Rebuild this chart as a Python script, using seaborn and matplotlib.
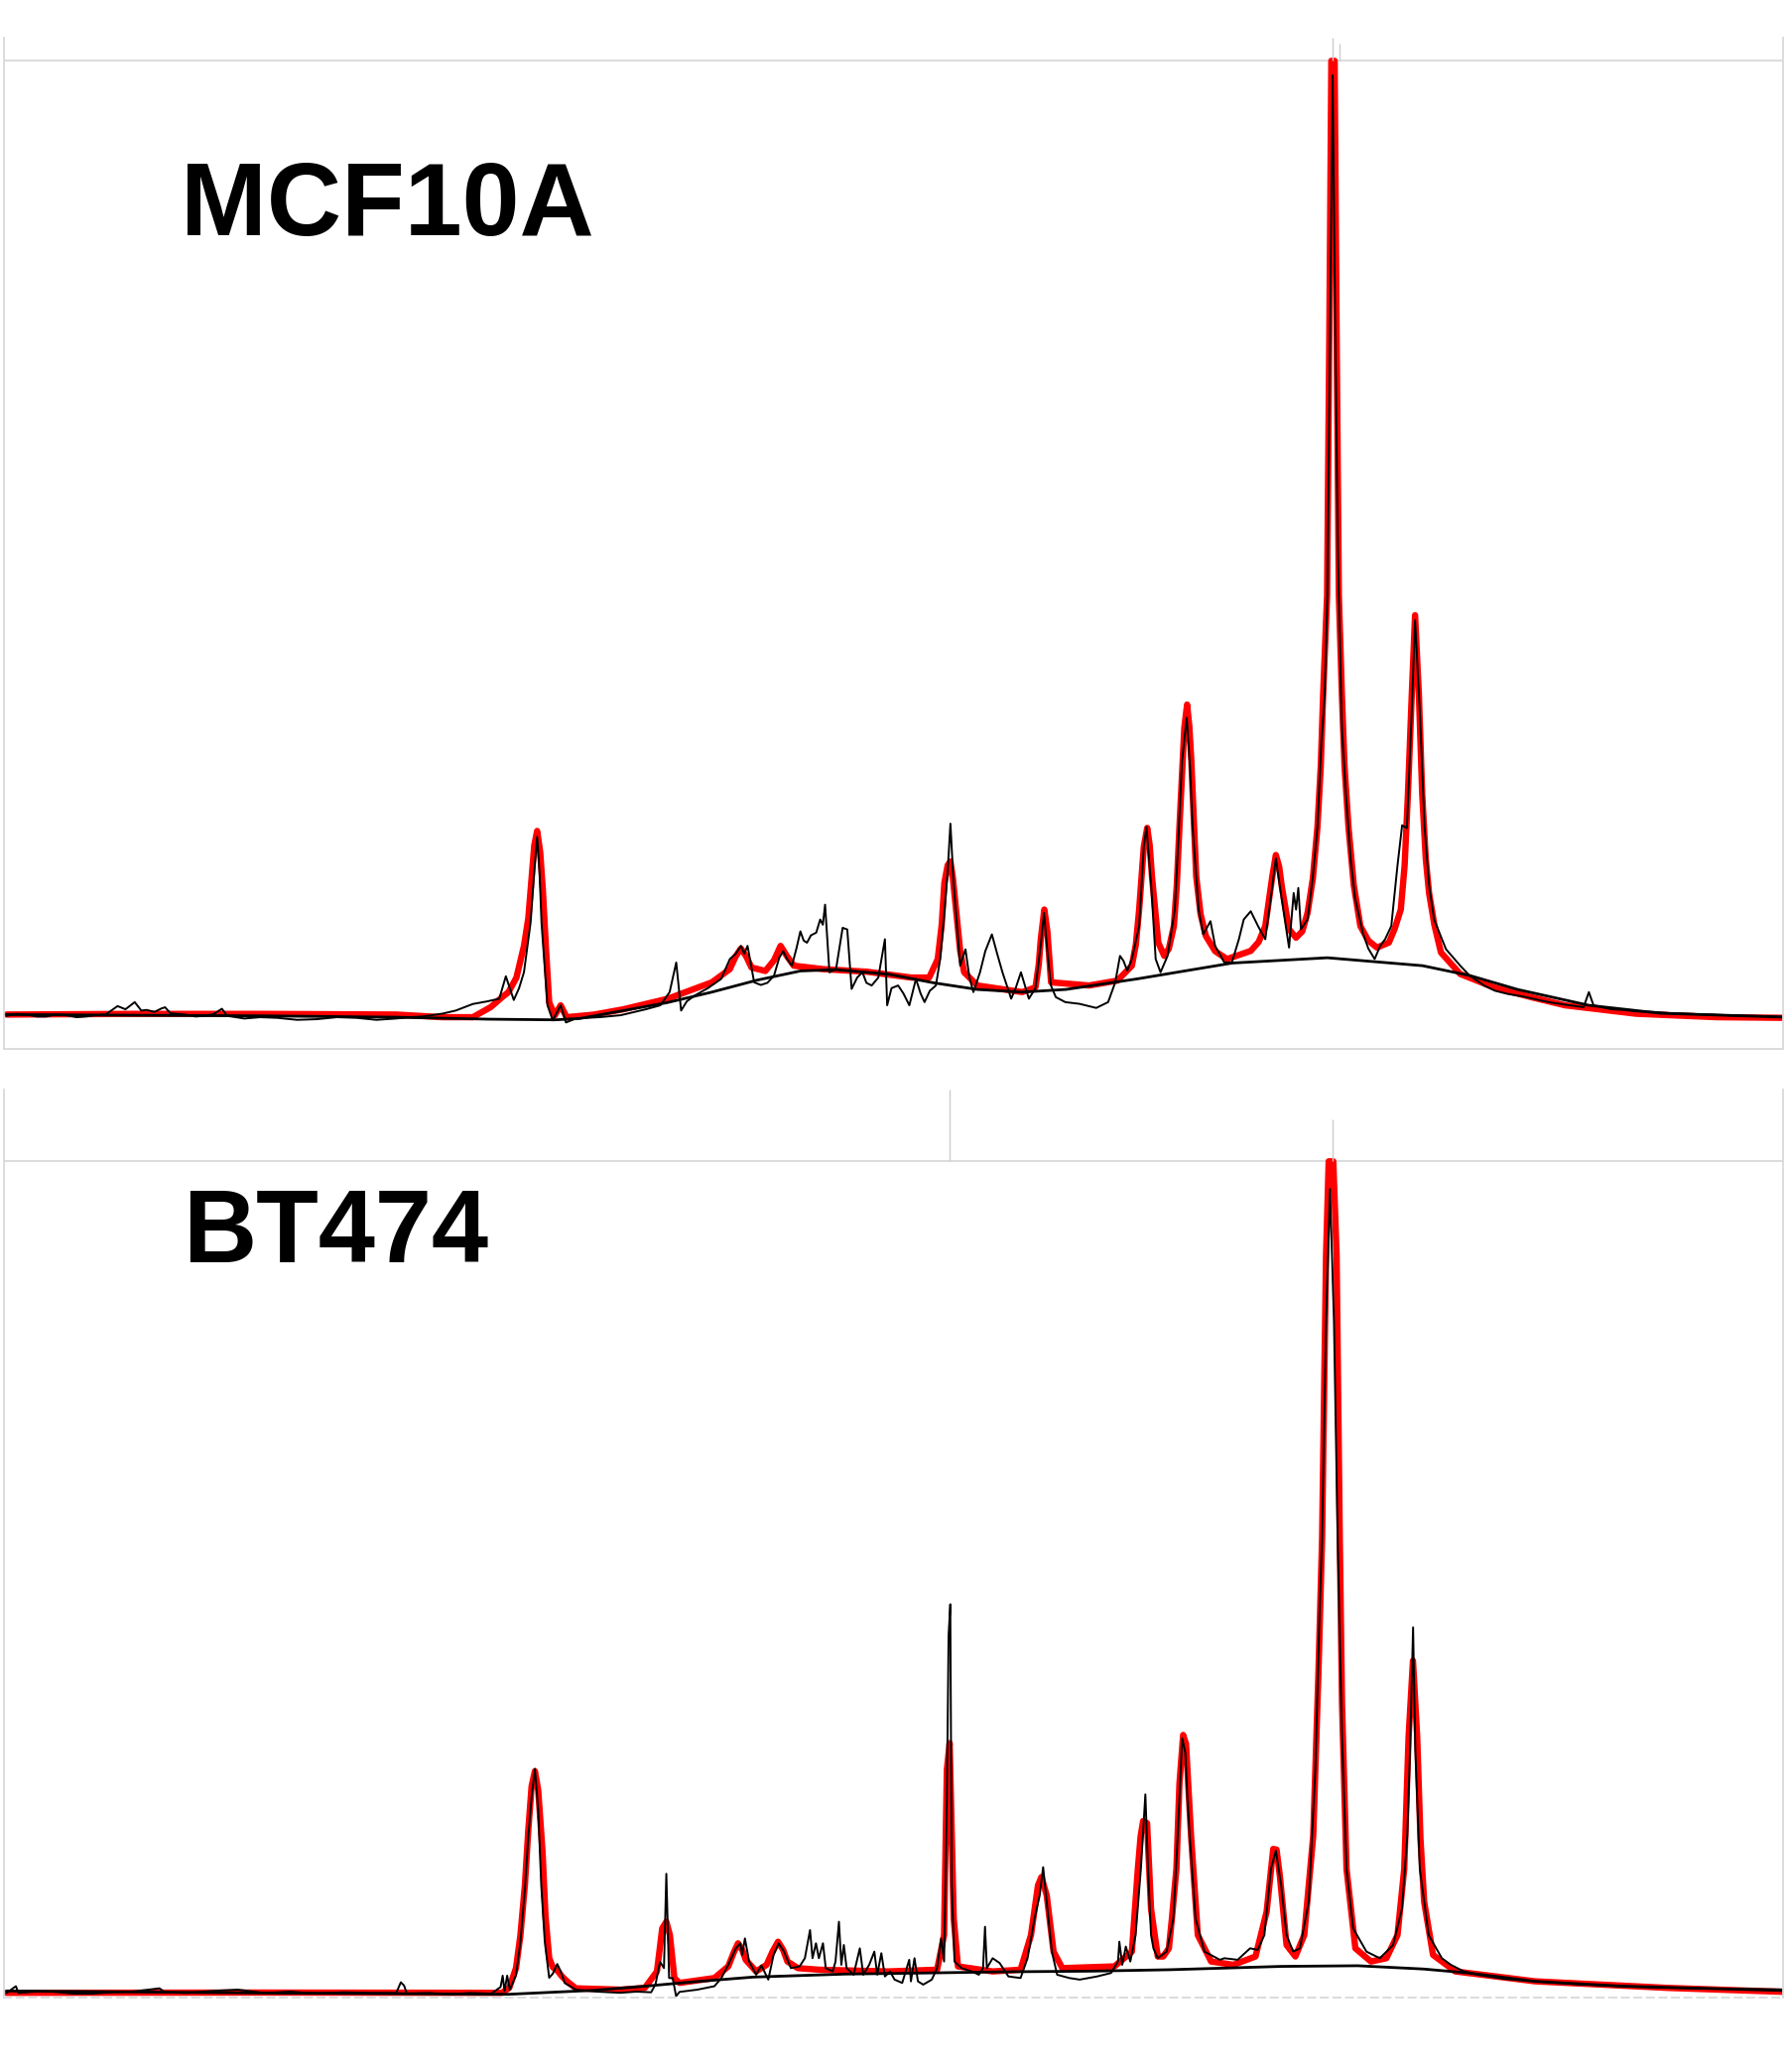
import seaborn as sns
import matplotlib.pyplot as plt

# ---- MCF10A: measured spectrum, fitted peaks (red) and background ----
mcf_x = [5, 12, 20, 28, 35, 42, 50, 58, 65, 72, 80, 89, 95, 102, 107, 111, 117, 122, 125, 129, 140, 148,
         155, 162, 168, 172, 185, 197, 210, 225, 240, 255, 270, 285, 300, 310, 320, 335, 345, 358, 369,
         378, 383, 386, 389, 393, 396.7, 401.7, 404.5,
         406.7, 408.5, 410, 414.5, 418.5, 424.5, 428.5, 436, 455, 470, 489, 500, 507, 512, 515.7, 520,
         526, 536, 546, 552.6, 557, 561, 563.5, 566, 571, 576, 581, 586, 590, 593, 596, 599.6, 603, 606,
         608.5, 611, 614, 618, 621, 623, 624.7, 626, 628, 633, 636, 638, 641.5, 644.8, 649, 653, 656,
         660, 665, 670, 671.7, 675, 680, 684, 688.5, 693.5, 697, 700, 704, 708.6, 712, 715, 717.5,
         719.6, 722, 724.5, 727, 731, 734, 737, 742, 746, 751, 755, 759, 765.6, 769, 773, 779, 784, 788,
         790.5, 793, 795.7, 799.4, 806.6, 817.4, 830, 839, 844.4, 848, 850.6, 853.5, 857, 862.5, 866,
         868, 871.5, 875, 878.7, 884, 889.5, 892, 895, 898.5, 901, 903, 907.5, 911, 916.5, 920, 927,
         932.7, 938, 941.7, 947, 952.5, 958, 963.3, 966, 970.5, 976, 979.5, 981.3, 983, 985, 990, 994,
         997.5, 1000.4, 1003, 1005, 1007, 1009, 1011, 1013, 1016, 1019, 1022.7, 1026, 1031.8, 1036,
         1040.8, 1045, 1048.7, 1053.4, 1058, 1061.6, 1065.2, 1068.9, 1071.4, 1075, 1078.6, 1082, 1085.8,
         1094.8, 1105.6, 1112.8, 1123.6, 1132, 1141.6, 1154, 1166.8, 1175, 1185, 1199, 1203, 1206.5,
         1220, 1230, 1238.9, 1252, 1265, 1280, 1293, 1307, 1320, 1336, 1352]
mcf_counts = [25, 26.5, 26, 24.5, 24.5, 26, 25.5, 24, 24.5, 25.5, 26, 32.4, 30, 35.4, 29, 29.5, 28,
              30.5, 31.5, 27, 26, 24.5, 25, 26.5, 30.4,
              25, 23, 24, 23.5, 22, 22.5, 24, 23.5, 22, 23, 24, 24.5, 26.7, 29, 34, 36, 38, 55, 46, 37,
              46, 58, 95.4, 134,
              160.5, 134, 95.4, 33, 21.6, 33, 20, 23, 24.1, 25.5, 30, 33, 43, 65.4, 29, 36, 40.4, 46, 53,
              68, 72, 78, 72, 78, 50.4, 48.4, 50, 55.4, 69, 74, 68, 63, 76, 89, 82, 80.4, 86, 88, 98, 94,
              109.2, 89, 58, 60.4, 79, 91.7, 90.4, 45.4, 54, 58, 50, 48, 54, 83, 33, 46, 48, 42, 33, 53,
              42, 35.4, 44, 48, 69, 103, 134, 170.5, 125.5, 94, 63, 75.4, 54, 43, 58, 74, 86.7, 72, 58,
              38, 46, 58, 38, 46, 79, 103, 74, 48, 39.2, 35.4, 34.1, 31, 35.4, 50.4, 70.4, 66.7, 59.2, 68,
              93, 153, 168, 125.5, 68, 58, 70.4, 105.5, 154, 218.2, 250.7, 214, 168, 105.5, 86.7, 96.7,
              78, 65.4, 65.4, 83, 98, 104.2, 93, 83, 123, 144.3, 113, 76.7, 118, 105.5, 121.8, 90.5, 98,
              130.5, 168, 230.7, 268, 344, 544, 737, 544, 374, 243.2, 193, 143, 114, 88, 76, 68, 78, 83,
              93, 138, 169.3, 167, 255.7, 324.6, 255.7, 168, 124, 98, 75.5, 63, 55.4, 48, 44, 41.6, 39.5,
              36.6, 35, 33.5, 31.6, 43, 33, 30, 29.5, 28.4, 28, 27, 26.5, 26, 25.5, 25, 24.8, 24.1]

mcf_fit_x = [5, 100, 200, 300, 335, 358, 371.5, 380, 385, 391, 396.7, 400, 402.4, 404.5, 406.7, 409,
             411, 413.5, 415.8, 420, 424.5, 429, 450, 472, 505.7, 539, 552.6, 557, 561, 565, 569, 579.5,
             586, 591, 596, 601, 623, 656.6, 690, 703.5, 710, 713, 715, 717.5, 719.6, 721.5, 723.6, 727,
             730, 740, 774, 784, 786.5, 788, 790.7, 793, 795.8, 824.6, 846, 857, 860, 862.5, 866, 868.6,
             870.5, 872.2, 877, 881.5, 885, 888.8, 891, 893, 896.7, 898.8, 900.5, 902, 905.7, 909, 913,
             920, 929, 947, 953, 958, 963.3, 966, 968.5, 970.5, 976, 981.3, 986, 990, 994, 997.5, 1000,
             1001.8, 1004.8, 1006.5, 1008, 1010.5, 1012, 1013.7, 1016, 1018, 1021, 1025, 1030, 1036,
             1042.6, 1051.6, 1056, 1060.6, 1063.5, 1066, 1068.9, 1071.4, 1074.3, 1076.8, 1079.5, 1082,
             1086, 1091, 1105.6, 1130.8, 1160, 1185, 1238.9, 1300, 1352]
mcf_fit = [26, 26.5, 26.5, 26, 24, 24, 31.6, 39, 43, 54, 78, 99, 128, 154, 165, 149, 120.5, 74, 35.3,
           25.3, 33, 24, 26, 30, 38, 50.4, 60.4, 70, 76, 70, 61.6, 59, 67, 78, 70, 63, 60.4, 58.4, 54, 54,
           68, 94, 125.5, 139, 141.8, 129, 108, 74, 58, 48, 43, 46.6, 64, 83, 105.5, 89, 50.4, 48, 51.7,
           63, 79, 105.5, 153, 167.3, 154, 130.5, 80.5, 70.4, 76, 93, 124, 168, 243.2, 260.7, 244, 218.2,
           130.5, 102, 85.5, 74, 68, 74.2, 81, 93, 130.5, 146.8, 138, 123, 90.5, 84.2, 89, 103, 129, 168,
           214, 268.2, 343.4, 544, 748, 748, 544, 343.4, 268.2, 214, 168, 124, 93, 82, 76.7, 80.5, 91,
           105.5, 139, 193, 268.2, 328.3, 268.2, 193, 144, 118, 94, 73, 56.7, 46.7, 39, 33, 26.6, 24, 23.5]

mcf_base_x = [5, 100, 200, 300, 370, 420, 439, 472, 505, 539, 573, 606, 633, 673, 707, 740, 774, 807,
              861, 933, 1005, 1077, 1113, 1149, 1203, 1257, 1352]
mcf_base = [26, 25.5, 25, 24, 22.5, 22, 23, 29, 35, 43, 52, 59, 60, 56.5, 50, 45, 43, 45, 53, 65, 69,
            63, 55.5, 45, 33, 27, 24]

# ---- BT474 ----
bt_x = [5, 12, 14, 27, 40, 55, 70, 85, 100, 120.7, 125, 142, 160, 180, 200, 220, 240, 260, 280, 300,
        303.5, 306, 308, 325, 340, 356, 372, 379,
        380.6, 382, 384, 386, 390.7, 394, 397.4, 400, 402.5, 405, 407.5, 409.8, 412.5, 415.8, 418.5,
        421.9, 424.5, 427.6, 436, 452, 469.5, 482, 493, 496.3, 499.7, 502.7, 504.5, 506.6, 509.3, 511.9,
        514.5, 528,
        540.9, 546.2, 551.4, 557.2, 560.6, 562, 564, 567.2, 572.5, 576.5, 581.7, 585.7, 589.6, 593.6,
        598.8, 605.4, 609.4, 613.3, 615.2, 617.8, 620, 623.1, 625.2, 630.5, 632.6, 635.2, 637, 638.9,
        641, 646.3, 651, 653.6, 658.1, 662, 664.2, 667.3, 670, 673.9, 677.3, 683.1, 688.4, 689.7, 692.4,
        695, 699, 705.5, 709.5, 712.6, 714.8, 716.9, 718.2, 719.5, 720.6, 722.7, 728, 735.8, 741.1,
        744.3, 745.8, 747.2, 751.6, 756.9, 763.5, 772.7, 778, 783.3, 787.2, 789.8, 792.5, 796.4, 800.4,
        809.6, 817.5, 830.7, 841.2, 846.5, 847.5, 849.7, 852.4, 855.8, 859.8, 863.8, 867.2, 869.2,
        871.5, 873.3, 876.6, 883.3, 888.4, 891.7, 893.5, 895.1, 897.5, 899, 900.8, 905.2, 911.9, 923.7,
        927, 937.1, 946.5, 952.2, 957.3, 962.3, 966, 970, 974.1, 979.1, 984.2, 990.9, 995.9, 999.3,
        1001, 1004, 1007, 1010, 1012.8, 1016.1, 1019.5, 1024.5, 1034.6, 1044.7, 1054.8, 1061.5, 1065.5,
        1067.6, 1069.9, 1071.6, 1075, 1081.7, 1091.7, 1098.5, 1108, 1118.6, 1140, 1162.3, 1195, 1229.6,
        1262, 1296.8, 1325, 1352]
bt_counts = [3.5, 8.6, 3.5, 4.5, 4.5, 3, 3, 4, 4.5, 7, 4, 3.5, 5, 6, 3.5, 4.5, 3, 4, 3.5, 3.5,
             11.6, 9, 3, 3.5, 2.5, 3.5, 3, 8, 16.6, 5, 16.6,
             6, 17, 42, 82, 122, 152, 173.1, 142, 85, 42, 15, 18, 25.4, 20, 11, 6, 4.5, 3.6, 4.5, 4, 10,
             27, 22.3, 93.7, 14.8, 14.8, 1.1, 4.3, 6, 8.6, 14.8, 24.8, 37.3, 41.1, 32.3, 44.8, 27.3, 17.3,
             24.3, 13.6,
             32.3, 41.1, 34.8, 22.3, 23.6, 29.8, 51.1, 29.8, 41.1, 29.8, 41.1, 22.3, 19.8, 27.3, 57.4,
             24.8, 39.8, 22.3, 17.3, 37.3, 17.3, 24.8, 34.8, 17.3, 33.6, 16, 19.8, 13.6, 11.1, 28.6, 12.3,
             29.8, 12.3, 9.8, 13.6, 22.3, 44.8, 27.3, 147.5, 274, 297.7, 85, 27.3, 22.3, 19.8, 17.3, 22.3,
             53.6, 22.3, 29.8, 26.1, 16, 14.8, 29.8, 59.9, 77.4, 98.7, 72.4, 34.8, 17.3, 14.8, 13.6, 16,
             18.6, 27.3, 42.3, 24.8, 38.6, 27.3, 47.3, 97.4, 153.8, 97.4, 47.3, 37.3, 29.8, 34.8, 59.9,
             122.5, 162, 196.3, 185.1, 152, 122.5, 59.9, 34.8, 28.6, 29.8, 28.6, 37.3, 36.1, 47.3, 97.4,
             111.2, 85, 47.3, 34.8, 37.3, 72.4, 172.5, 297.7, 347.8, 512, 612, 512, 347.8, 197.6, 97.4,
             52.4, 34.8, 29.8, 39.8, 67.4, 122.5, 187.6, 280.2, 187.6, 97.4, 47.3, 29.8, 24.8, 20, 17.3,
             14, 12.3, 10, 8.6, 7.5, 6.8, 6.5, 6.1]

bt_fit_x = [5, 200, 380, 385.6, 390.7, 394, 397.4, 400, 402.5, 405, 407.5, 410.8, 413, 415.8, 418.5,
            422.5, 425.5, 429.2, 436, 470, 488.2, 497.4, 501.4, 504.5, 507.2, 510.6, 514.5, 540.9, 551.4,
            555.5, 558.8, 562, 564.6, 572.5, 580.4, 585, 589.1, 593, 596.2, 604.1, 620, 672.6, 709.5,
            714.8, 716.9, 719, 722.1, 725.3, 751.6, 772.7, 780.6, 785.9, 788.5, 792.5, 797.7, 804.3,
            843.8, 857, 861.5, 863.6, 865.5, 868.5, 871.5, 876.6, 880.7, 885, 887.3, 890.7, 893, 895.8,
            898, 901.8, 906.9, 917, 933.8, 950.6, 959, 964, 966.5, 969, 974.1, 980.8, 987.5, 994.3,
            998.3, 1001, 1004, 1006, 1009.5, 1012, 1014.4, 1016.1, 1019.5, 1026.2, 1038, 1049.7, 1058.1,
            1063.2, 1066.5, 1069.8, 1073, 1075.5, 1078.3, 1085, 1101.8, 1162.3, 1263.2, 1352]
bt_fit = [3.6, 3.8, 3.6, 7.4, 22.4, 47, 85, 127, 160, 171.4, 157, 110, 62, 30, 23, 19.9, 16, 12.4, 7,
          6, 7.3, 19.8, 52.4, 57.4, 47.3, 14.8, 11.1, 14.8, 23.6, 34, 41.1, 36, 28.6, 19.8, 24.8, 35,
          42.3, 36, 27.3, 22.3, 21.1, 19.8, 21.1, 47.3, 172.5, 192.6, 59.9, 23.6, 19.8, 21.1, 47.3, 85,
          91.2, 77.4, 34.8, 22.3, 23.6, 34.8, 97.4, 122, 133.7, 132, 67, 31.1, 31.1, 37.3, 59.9, 97.4,
          162, 198.8, 192, 122.5, 47.3, 27.3, 24.8, 31.1, 64.9, 112.5, 112, 92.4, 39.8, 31.1, 47.3,
          122.5, 247.7, 347.8, 562, 633, 633, 562, 347.8, 222.6, 97.4, 37.3, 27.3, 29.8, 47.3, 97.4,
          197.6, 255, 197.6, 120, 72.4, 32.3, 19.8, 12.3, 7.3, 4.3]

bt_base_x = [5, 200, 385, 450, 488, 526, 570, 640, 700, 760, 826, 886, 970, 1028, 1078, 1112, 1162,
             1229, 1352]
bt_base = [5, 3.5, 2.5, 5.5, 8.6, 12, 15.5, 17.8, 18.6, 19.5, 20, 21.1, 23.6, 24.1, 21.6, 18.6, 12.3,
           8.6, 5.3]

# faint clipped-peak marks above the top gridline
mcf_overflow_x = [1009, 1014]
bt_overflow_x = [719, 1009]

GRID = '#d9d9d9'

sns.set_style('white')
plt.rcParams['font.family'] = ['Liberation Sans', 'DejaVu Sans']

fig = plt.figure(figsize=(18, 20.88), dpi=100)
ax1 = fig.add_axes([4 / 1800, 1 - 1057 / 2088, 1793 / 1800, 1019 / 2088])
ax2 = fig.add_axes([4 / 1800, 1 - 2013 / 2088, 1793 / 1800, 915 / 2088])


def draw_panel(ax, sx, sy, fx, fy, bx, by, grid_y, ytop, over_x, over_top):
    sns.lineplot(x=fx, y=fy, ax=ax, color='#ff0000', lw=4.6, estimator=None, sort=False)
    sns.lineplot(x=bx, y=by, ax=ax, color='black', lw=2.0, estimator=None, sort=False)
    sns.lineplot(x=sx, y=sy, ax=ax, color='black', lw=1.4, estimator=None, sort=False)
    ax.axhline(grid_y, color=GRID, lw=1.3, zorder=0)
    ax.vlines(over_x, grid_y, over_top, color='#cccccc', lw=1.0)
    ax.set_xlim(3, 1350)
    ax.set_ylim(0, ytop)
    ax.set_xticks([])
    ax.set_yticks([])
    ax.set_xlabel('')
    ax.set_ylabel('')
    ax.spines['top'].set_visible(False)
    for side in ['left', 'right', 'bottom']:
        ax.spines[side].set_color(GRID)
        ax.spines[side].set_linewidth(1.3)


draw_panel(ax1, mcf_x, mcf_counts, mcf_fit_x, mcf_fit, mcf_base_x, mcf_base,
           748, 765.5, mcf_overflow_x, [765.5, 761])
draw_panel(ax2, bt_x, bt_counts, bt_fit_x, bt_fit, bt_base_x, bt_base,
           633, 687.3, bt_overflow_x, [687.3, 665])
ax2.spines['bottom'].set_linestyle((0, (4, 3)))

fig.text(182 / 1800, 1 - 237 / 2088, 'MCF10A', fontsize=75, fontweight='bold',
         color='black', va='baseline')
fig.text(184 / 1800, 1 - 1272 / 2088, 'BT474', fontsize=74, fontweight='bold',
         color='black', va='baseline')

fig.savefig('out.png', dpi=100)
